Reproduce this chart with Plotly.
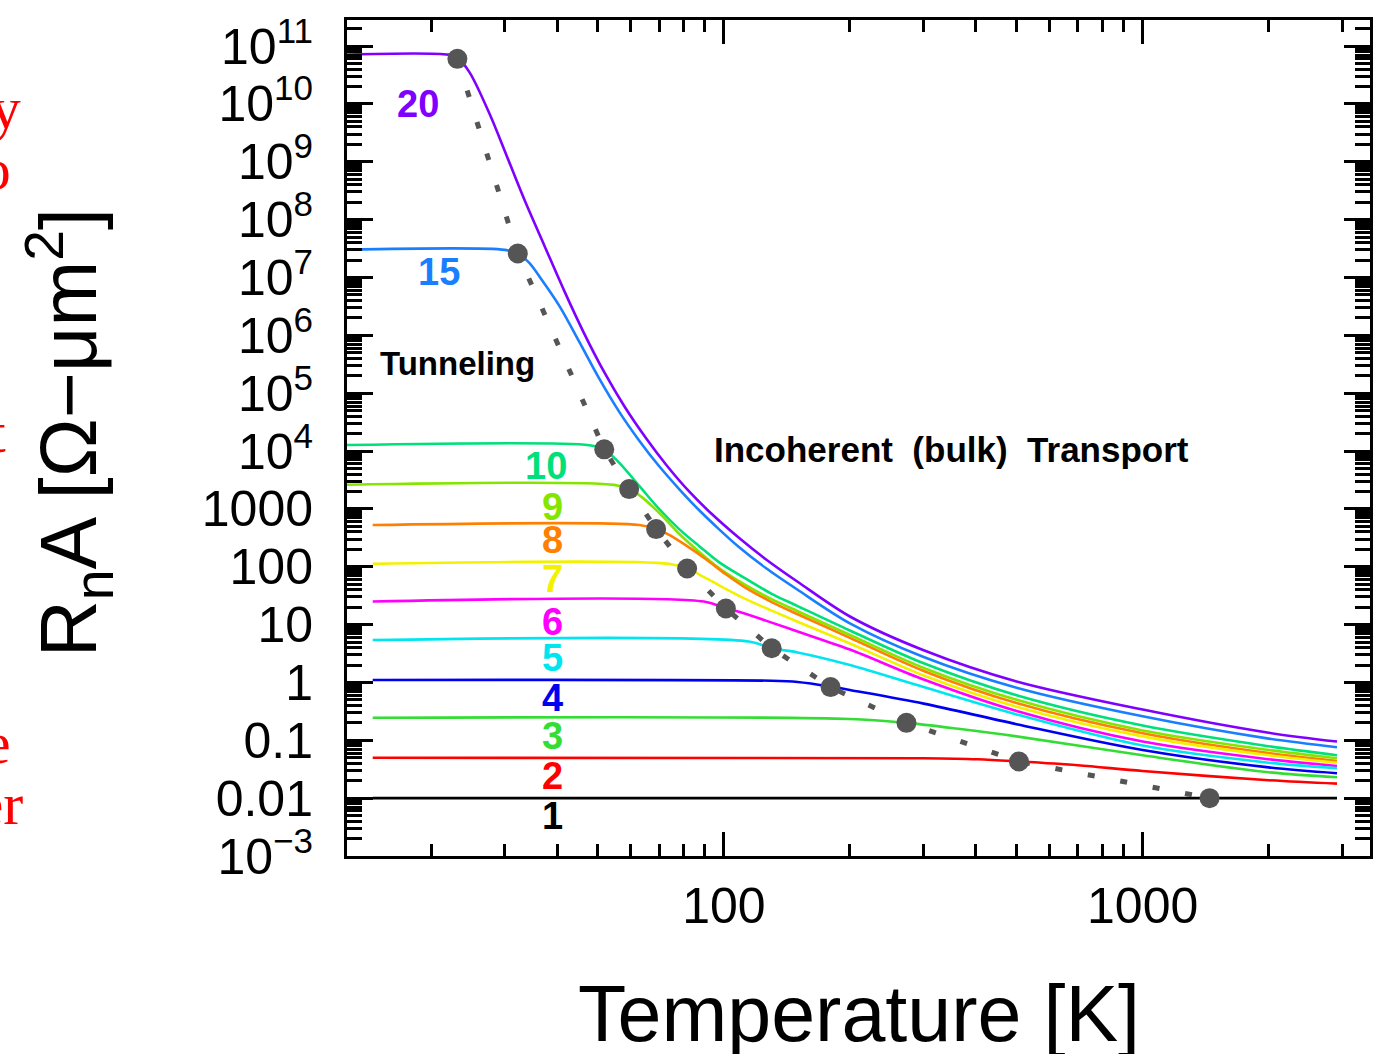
import math
import plotly.graph_objects as go

# ---------------- data ----------------
# Barrier thickness N (layers) -> R_n A [Ohm um^2] vs temperature [K]
T_20 = [12, 22, 23.1, 24.7, 27.6, 30.3, 33.4, 37.3, 41.6, 46.4, 51.8, 57.8, 65.2, 72.8, 82.6, 93.6,
        108.6, 125.9, 150, 200, 300, 500, 1000, 2000, 2912]
RA_20 = [7.1e10, 7.1e10, 6.3e10, 3.5e10, 6.6e9, 1.26e9, 2.2e8, 3.5e7, 5.8e6, 1.07e6, 2.3e5, 6.0e4, 1.66e4,
         5.8e3, 2.0e3, 813, 316, 135, 55, 13.8, 3.6, 1.04, 0.34, 0.135, 0.095]

T_15 = [12, 30, 32.2, 34.3, 36.4, 40.5, 45.2, 50.4, 56.2, 62.8, 70.0, 78.2, 87.2, 97.3, 108.6, 125.9,
        150, 200, 300, 500, 1000, 2000, 2912]
RA_15 = [3.0e7, 3.0e7, 2.6e7, 1.78e7, 1.0e7, 3.2e6, 7.6e5, 1.78e5, 4.8e4, 1.51e4, 5.5e3, 2.2e3, 955,
         447, 219, 95, 40, 10.5, 2.75, 0.81, 0.26, 0.107, 0.076]

T_10 = [12, 47.7, 51.8, 56.2, 62.8, 70.0, 78.2, 87.2, 97.3, 112.8, 130.1, 150, 200, 300, 500, 1000,
        2000, 2912]
RA_10 = [1.26e4, 1.26e4, 1.07e4, 6.3e3, 2.5e3, 1.0e3, 447, 229, 120, 62, 34, 20.9, 7.9, 2.14, 0.60,
         0.18, 0.079, 0.055]

T_9 = [12, 54.7, 59.4, 63.8, 71.2, 78.2, 87.2, 97.3, 112.8, 130.1, 150, 200, 300, 500, 1000, 2000, 2912]
RA_9 = [2.6e3, 2.6e3, 2.2e3, 1.58e3, 760, 372, 182, 95, 48, 27.5, 17, 6.6, 1.78, 0.50, 0.148, 0.068, 0.049]

T_8 = [14.5, 62.8, 68.9, 74.0, 81.2, 90.6, 101.1, 112.8, 130.1, 150, 200, 300, 500, 1000, 2000, 2912]
RA_8 = [525, 525, 447, 355, 234, 135, 74, 43, 24.5, 15.1, 5.9, 1.58, 0.44, 0.132, 0.060, 0.044]

T_7 = [14.5, 74, 81.7, 87.2, 97.3, 112.8, 130.1, 150, 200, 300, 500, 1000, 2000, 2912]
RA_7 = [112, 112, 93, 74, 48, 27.5, 17.4, 11.2, 4.7, 1.32, 0.38, 0.117, 0.055, 0.041]

T_6 = [14.5, 89.6, 101.1, 108.6, 125.9, 150, 200, 300, 500, 1000, 2000, 2912]
RA_6 = [25, 25, 19, 16.6, 11.7, 7.6, 3.7, 1.12, 0.32, 0.095, 0.047, 0.036]

T_5 = [14.5, 114.7, 130.1, 150, 200, 300, 500, 1000, 2000, 2912]
RA_5 = [5.4, 5.1, 3.9, 3.3, 2.0, 0.83, 0.28, 0.081, 0.041, 0.033]

T_4 = [14.5, 130, 150, 179.8, 200, 300, 500, 1000, 2000, 2912]
RA_4 = [1.1, 1.07, 1.02, 0.85, 0.74, 0.43, 0.19, 0.068, 0.034, 0.027]

T_3 = [14.5, 200, 272.9, 362.9, 500, 1000, 2000, 2912]
RA_3 = [0.245, 0.234, 0.20, 0.158, 0.117, 0.055, 0.028, 0.023]

T_2 = [14.5, 300, 404, 506.6, 700, 1000, 2000, 2912]
RA_2 = [0.050, 0.049, 0.047, 0.043, 0.037, 0.0295, 0.0204, 0.0178]

T_1 = [14.5, 1445, 2912]
RA_1 = [0.01, 0.01, 0.01]

# crossover (tunneling -> incoherent) points
T_cross = [23.1, 32.2, 51.8, 59.4, 68.9, 81.7, 101.1, 130.1, 179.8, 272.9, 506.6, 1445]
RA_cross = [6.0e10, 2.6e7, 1.07e4, 2.2e3, 447, 93, 19, 3.9, 0.83, 0.20, 0.043, 0.01]

# curve labels and their positions (T, RA)
labels = ["20", "15", "10", "9", "8", "7", "6", "5", "4", "3", "2", "1"]
label_T = [18.6, 20.9, 37.5, 39, 39, 39, 39, 39, 39, 39, 39, 39]
label_RA = [1.0e10, 1.26e7, 5.6e3, 1.07e3, 290, 62, 11.2, 2.6, 0.54, 0.12, 0.0245, 0.005]

x_tickvals = [100, 1000]
x_ticktext = ["100", "1000"]
y_tickvals = [10.0 ** e for e in range(-3, 12)]
y_ticktext = ["10<sup>\u22123</sup>", "0.01", "0.1", "1", "10", "100", "1000"] + \
             ["10<sup>%d</sup>" % e for e in range(4, 12)]

colors = ["#8000ff", "#1a7fff", "#00e07a", "#84e600", "#ff8000", "#f2f200",
          "#ff00ff", "#00e5f0", "#0000f0", "#33dd33", "#ff0000", "#000000"]
series = [(T_20, RA_20), (T_15, RA_15), (T_10, RA_10), (T_9, RA_9), (T_8, RA_8), (T_7, RA_7),
          (T_6, RA_6), (T_5, RA_5), (T_4, RA_4), (T_3, RA_3), (T_2, RA_2), (T_1, RA_1)]

# ---------------- figure ----------------
W, H = 1384, 1054
ML, MR, MT, MB = 347, 11, 15, 198

fig = go.Figure()
for (T, RA), col, name in zip(series, colors, labels):
    fig.add_trace(go.Scatter(x=T, y=RA, mode="lines", name=name,
                             line=dict(color=col, width=2.6, shape="spline", smoothing=0.9),
                             showlegend=False, hoverinfo="skip"))

fig.add_trace(go.Scatter(x=T_cross, y=RA_cross, mode="lines", showlegend=False, hoverinfo="skip",
                         line=dict(color="#555555", width=5, dash="7px,26px")))
fig.add_trace(go.Scatter(x=T_cross, y=RA_cross, mode="markers", showlegend=False, hoverinfo="skip",
                         marker=dict(color="#555555", size=20)))

annotations = []
for lab, t, ra, col in zip(labels, label_T, label_RA, colors):
    annotations.append(dict(x=math.log10(t), y=math.log10(ra), xref="x", yref="y",
                            text="<b>%s</b>" % lab, showarrow=False,
                            font=dict(family="Liberation Sans", size=38, color=col)))

annotations.append(dict(x=math.log10(23.1), y=math.log10(3.3e5), xref="x", yref="y",
                        text="<b>Tunneling</b>", showarrow=False,
                        font=dict(family="Liberation Sans", size=33, color="black")))
annotations.append(dict(x=math.log10(349), y=math.log10(1.07e4), xref="x", yref="y",
                        text="<b>Incoherent  (bulk)  Transport</b>", showarrow=False,
                        font=dict(family="Liberation Sans", size=35, color="black")))


def px_x(px):
    return (px - ML) / (W - ML - MR)


def px_y(py):
    return (H - MB - py) / (H - MT - MB)


# axis titles
annotations.append(dict(x=0.5, y=px_y(1014), xref="paper", yref="paper",
                        text="Temperature [K]", showarrow=False, xanchor="center", yanchor="middle",
                        font=dict(family="Liberation Sans", size=79, color="black")))
annotations.append(dict(x=px_x(68), y=px_y(430), xref="paper", yref="paper", textangle=-90,
                        text="R<sub>n</sub>A [\u03a9\u2212\u03bcm<sup>2</sup>]", showarrow=False,
                        xanchor="center", yanchor="middle",
                        font=dict(family="Liberation Sans", size=79, color="black")))

# red slide text cut off at the left page edge
for txt, right_px, center_py in [("ly", 22, 104), ("to", 12, 165), ("t", 7, 429),
                                  ("he", 12, 742), ("ter", 24, 804)]:
    annotations.append(dict(x=px_x(right_px), y=px_y(center_py), xref="paper", yref="paper",
                            text=txt, showarrow=False, xanchor="right", yanchor="middle",
                            font=dict(family="Liberation Serif", size=60, color="red")))

x_minor = [k * 10 ** e for e in (1, 2, 3) for k in range(2, 10)]
y_minor = [k * 10.0 ** e for e in range(-3, 12) for k in range(2, 10)]

fig.update_layout(
    width=W, height=H,
    margin=dict(l=ML, r=MR, t=MT, b=MB, pad=0),
    paper_bgcolor="white", plot_bgcolor="white",
    annotations=annotations,
    xaxis=dict(type="log", range=[1.1, 3.543], showgrid=False, zeroline=False,
               showline=True, linewidth=3, linecolor="black", mirror="ticks",
               ticks="inside", ticklen=24, tickwidth=3, tickcolor="black",
               tickmode="array", tickvals=x_tickvals, ticktext=x_ticktext,
               tickfont=dict(family="Liberation Sans", size=50, color="black"),
               ticklabelstandoff=4,
               minor=dict(ticks="inside", ticklen=12, tickwidth=2.5, tickcolor="black",
                          tickmode="array", tickvals=x_minor, showgrid=False)),
    yaxis=dict(type="log", range=[-3, 11.45], showgrid=False, zeroline=False,
               showline=True, linewidth=3, linecolor="black", mirror="ticks",
               ticks="inside", ticklen=26, tickwidth=3, tickcolor="black",
               tickmode="array", tickvals=y_tickvals, ticktext=y_ticktext,
               tickfont=dict(family="Liberation Sans", size=50, color="black"),
               ticklabelstandoff=21,
               minor=dict(ticks="inside", ticklen=15, tickwidth=2.5, tickcolor="black",
                          tickmode="array", tickvals=y_minor, showgrid=False)),
)

fig.write_html("out.html", config={"displayModeBar": False},
               post_script="document.body.style.margin='0';")
